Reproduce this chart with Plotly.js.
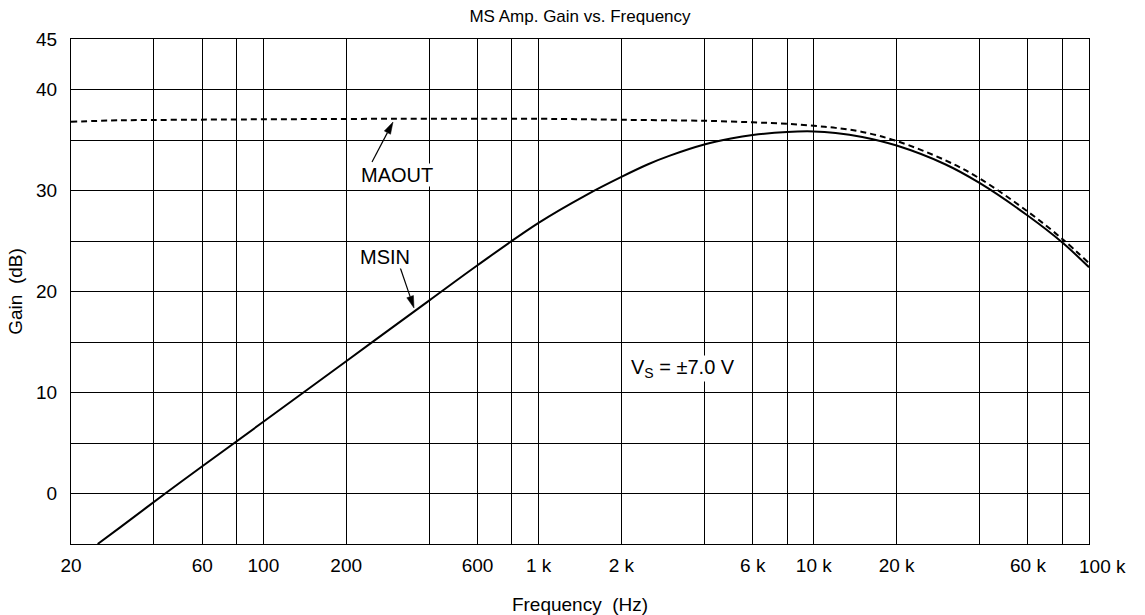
<!DOCTYPE html>
<html>
<head>
<meta charset="utf-8">
<script src="https://cdn.plot.ly/plotly-3.0.1.min.js"></script>
<style>html,body{margin:0;padding:0;background:#fff;}#chart{width:1145px;height:615px;}</style>
</head>
<body>
<div id="chart"></div>
<script>
// Frequency (Hz) and gain (dB)
const msinFreq = [25, 30, 44, 60, 100, 200, 400, 600, 1000, 1500, 2000, 2500, 3000, 4000, 5000, 6000, 8000, 10000, 12000, 15000, 20000, 30000, 40000, 60000, 80000, 100000];
const msinGain = [-5.0, -3.4, 0.0, 2.7, 7.1, 13.1, 19.1, 22.6, 26.8, 29.6, 31.35, 32.6, 33.45, 34.55, 35.15, 35.5, 35.8, 35.85, 35.7, 35.3, 34.45, 32.6, 30.75, 27.5, 24.85, 22.4];

const maoutFreq = [20, 30, 50, 100, 300, 1000, 2000, 4000, 6000, 8000, 10000, 12000, 15000, 20000, 30000, 40000, 60000, 80000, 100000];
const maoutGain = [36.8, 36.95, 37.0, 37.05, 37.1, 37.1, 37.0, 36.9, 36.75, 36.6, 36.4, 36.2, 35.8, 34.9, 33.0, 31.2, 27.9, 25.2, 22.8];

// labelled ticks and extra (unlabelled) grid lines
const xTickVals = [20, 60, 100, 200, 600, 1000, 2000, 6000, 10000, 20000, 60000];
const xTickText = ['20', '60', '100', '200', '600', '1 k', '2 k', '6 k', '10 k', '20 k', '60 k'];
const xLastLabel = '100 k';
const xGridExtra = [40, 80, 400, 800, 4000, 8000, 40000, 80000];
const yTickVals = [0, 10, 20, 30, 40, 45];
const yTickText = ['0', '10', '20', '30', '40', '45'];
const yGridExtra = [5, 15, 25, 35];

const FONT = 'Liberation Sans, Arial, Helvetica, sans-serif';

// plot area in pixels (for placing labels / pointer arrows)
const PL = 71, PR = 1089, PT = 39, PB = 544;
const px2x = p => (p - PL) / (PR - PL);
const px2y = p => (PB - p) / (PB - PT);

function arrowShapes(tx, ty, hx, hy) {
  const dx = hx - tx, dy = hy - ty, len = Math.hypot(dx, dy);
  const ux = dx / len, uy = dy / len, nx = -uy, ny = ux;
  const L = 12, W = 3.5;
  const bx = hx - L * ux, by = hy - L * uy;
  return [
    {type: 'line', xref: 'paper', yref: 'paper', x0: px2x(tx), y0: px2y(ty), x1: px2x(bx), y1: px2y(by),
     line: {color: '#000', width: 1.2}},
    {type: 'path', xref: 'paper', yref: 'paper',
     path: 'M ' + px2x(hx) + ' ' + px2y(hy) + ' L ' + px2x(bx + W * nx) + ' ' + px2y(by + W * ny) +
           ' L ' + px2x(bx - W * nx) + ' ' + px2y(by - W * ny) + ' Z',
     fillcolor: '#000', line: {color: '#000', width: 0.5}}
  ];
}

const traces = [
  {x: msinFreq, y: msinGain, type: 'scatter', mode: 'lines', name: 'MSIN',
   line: {color: '#000', width: 2, shape: 'spline', smoothing: 1}},
  {x: maoutFreq, y: maoutGain, type: 'scatter', mode: 'lines', name: 'MAOUT',
   line: {color: '#000', width: 2, dash: '6px,4px', shape: 'spline', smoothing: 1}}
];

const layout = {
  width: 1145, height: 615,
  margin: {l: PL, r: 1145 - PR, t: PT, b: 615 - PB},
  paper_bgcolor: '#fff', plot_bgcolor: '#fff',
  showlegend: false,
  font: {family: FONT, size: 19, color: '#000'},
  title: {text: 'MS Amp. Gain vs. Frequency', font: {family: FONT, size: 17, color: '#000'},
          x: 0.5, xref: 'paper', y: 1 - 16 / 615, yref: 'container', yanchor: 'middle'},
  xaxis: {
    type: 'log', range: [Math.log10(20), Math.log10(100000)],
    tickmode: 'array', tickvals: xTickVals, ticktext: xTickText,
    ticks: '', ticklabelstandoff: 4,
    showgrid: true, gridcolor: '#000', gridwidth: 1,
    minor: {tickmode: 'array', tickvals: xGridExtra, showgrid: true, gridcolor: '#000', gridwidth: 1, ticks: ''},
    showline: true, linecolor: '#000', linewidth: 1, mirror: true,
    zeroline: false,
    tickfont: {family: FONT, size: 19, color: '#000'},
    title: {text: 'Frequency  (Hz)', font: {family: FONT, size: 19, color: '#000'}, standoff: 22}
  },
  yaxis: {
    range: [-5, 45],
    tickmode: 'array', tickvals: yTickVals, ticktext: yTickText,
    ticks: '', ticklabelstandoff: 9,
    showgrid: true, gridcolor: '#000', gridwidth: 1,
    minor: {tickmode: 'array', tickvals: yGridExtra, showgrid: true, gridcolor: '#000', gridwidth: 1, ticks: ''},
    showline: true, linecolor: '#000', linewidth: 1, mirror: true,
    zeroline: false,
    tickfont: {family: FONT, size: 19, color: '#000'},
    title: {text: 'Gain  (dB)', font: {family: FONT, size: 19, color: '#000'}, standoff: 8}
  },
  shapes: [].concat(arrowShapes(372, 162, 393, 122), arrowShapes(400, 267, 414, 308)),
  annotations: [
    {x: px2x(1102), y: px2y(566), xref: 'paper', yref: 'paper', xanchor: 'center', yanchor: 'middle',
     text: xLastLabel, showarrow: false, font: {family: FONT, size: 19, color: '#000'}},
    {x: px2x(397), y: px2y(175), xref: 'paper', yref: 'paper', xanchor: 'center', yanchor: 'middle',
     text: 'MAOUT', showarrow: false, bgcolor: '#fff', borderpad: 0,
     font: {family: FONT, size: 20, color: '#000'}},
    {x: px2x(385), y: px2y(257), xref: 'paper', yref: 'paper', xanchor: 'center', yanchor: 'middle',
     text: 'MSIN', showarrow: false, bgcolor: '#fff', borderpad: 0,
     font: {family: FONT, size: 20, color: '#000'}},
    {x: px2x(683), y: px2y(368), xref: 'paper', yref: 'paper', xanchor: 'center', yanchor: 'middle',
     text: 'V<sub>S</sub> = \u00b17.0 V', showarrow: false, bgcolor: '#fff', borderpad: 0,
     font: {family: FONT, size: 20, color: '#000'}}
  ]
};

Plotly.newPlot('chart', traces, layout, {staticPlot: true, displayModeBar: false});
</script>
</body>
</html>
